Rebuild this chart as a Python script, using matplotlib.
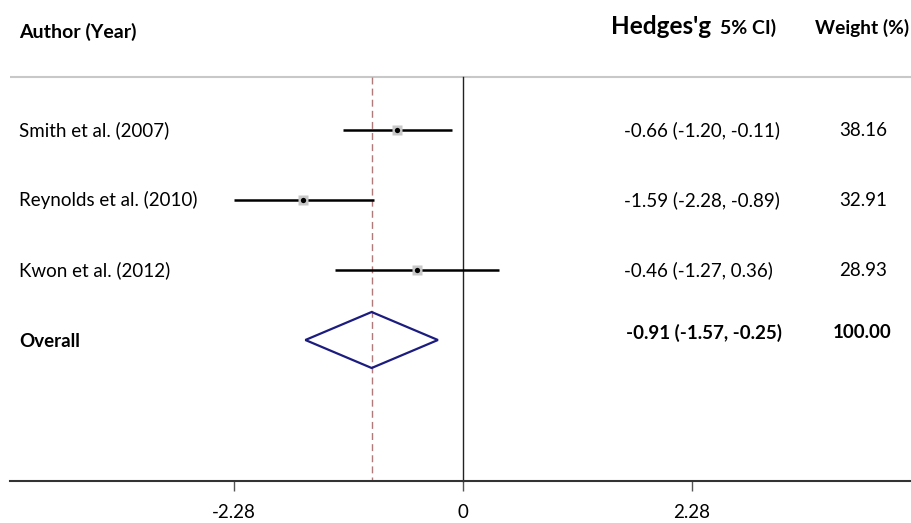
import matplotlib
matplotlib.use("Agg")
import matplotlib.pyplot as plt
from matplotlib.patches import Polygon

studies = ["Smith et al. (2007)", "Reynolds et al. (2010)", "Kwon et al. (2012)"]
es = [-0.66, -1.59, -0.46]
lo = [-1.20, -2.28, -1.27]
hi = [-0.11, -0.89, 0.36]
weights = [38.16, 32.91, 28.93]
overall_es, overall_lo, overall_hi = -0.91, -1.57, -0.25
overall_weight = 100.00
xticks = [-2.28, 0, 2.28]
xticklabels = ["-2.28", "0", "2.28"]

plt.rcParams['font.family'] = ['Lato', 'DejaVu Sans']

fig = plt.figure(figsize=(9.12, 5.23), dpi=100)
ax = fig.add_axes([0, 0, 1, 1])
px = 100.4
ax.set_xlim(-463 / px, (912 - 463) / px)
ax.set_ylim((523 - 130) / 70, -130 / 70)

def ypx(p):
    return (p - 130) / 70

def xpx(p):
    return (p - 463) / px

axis_y = ypx(481)
head_y = ypx(77)

# header line
ax.plot([xpx(10), xpx(912)], [head_y, head_y], color="#c8c8c8", lw=1.5, solid_capstyle="butt")
# null line
ax.plot([0, 0], [head_y, axis_y], color="#222222", lw=1.0)
# overall dashed line
ax.plot([overall_es, overall_es], [head_y, axis_y], color="#b07a7a", lw=1.0, ls=(0, (5, 3)))

for i, (e, l, h) in enumerate(zip(es, lo, hi)):
    ax.plot([l, h], [i, i], color="black", lw=1.8, solid_capstyle="butt", zorder=3)
    ax.plot([e], [i], marker="s", ms=7.5, color="#c8c8c8", mec="none", zorder=4)
    ax.plot([e], [i], marker="o", ms=3.8, color="black", mec="none", zorder=5)

n = len(studies)
dia = Polygon([[overall_lo, n], [overall_es, n - 0.4], [overall_hi, n], [overall_es, n + 0.4]],
              closed=True, fill=False, edgecolor="#1c1c80", lw=1.6, zorder=4)
ax.add_patch(dia)

fs = 13.5
lab_x = xpx(19)
es_x = xpx(624)
w_x = xpx(863)
for i in range(n):
    ax.text(lab_x, i, studies[i], fontsize=fs, va="center", ha="left")
    ax.text(es_x, i, f"{es[i]:.2f} ({lo[i]:.2f}, {hi[i]:.2f})", fontsize=fs, va="center", ha="left")
    ax.text(w_x, i, f"{weights[i]:.2f}", fontsize=fs, va="center", ha="center")
ax.text(lab_x, n + 0.02, "Overall", fontsize=fs, va="center", ha="left", fontweight="bold")
ax.text(xpx(626), n - 0.1, f"{overall_es:.2f} ({overall_lo:.2f}, {overall_hi:.2f})", fontsize=fs,
        va="center", ha="left", fontweight="bold")
ax.text(xpx(862), n - 0.1, f"{overall_weight:.2f}", fontsize=fs, va="center", ha="center", fontweight="bold")

# headers
ax.text(lab_x, ypx(32), "Author (Year)", fontsize=14, va="center", ha="left", fontweight="bold")
ax.text(xpx(720), ypx(28), "5% CI)", fontsize=14, va="center", ha="left", fontweight="bold")
ax.text(xpx(611), ypx(27), "Hedges'g", fontsize=17.5, va="center", ha="left", fontweight="bold")
ax.text(xpx(862), ypx(28), "Weight (%)", fontsize=13.8, va="center", ha="center", fontweight="bold")

# axis
for s in ["top", "left", "right"]:
    ax.spines[s].set_visible(False)
ax.spines["bottom"].set_position(("data", axis_y))
ax.spines["bottom"].set_bounds(xpx(10), xpx(912))
ax.spines["bottom"].set_color("#333333")
ax.spines["bottom"].set_linewidth(1.5)
ax.set_yticks([])
ax.set_xticks(xticks)
ax.set_xticklabels(xticklabels, fontsize=fs)
ax.tick_params(axis="x", direction="out", length=7.5, width=1.0, color="#555555", pad=9)

fig.savefig("out.png", dpi=100)
